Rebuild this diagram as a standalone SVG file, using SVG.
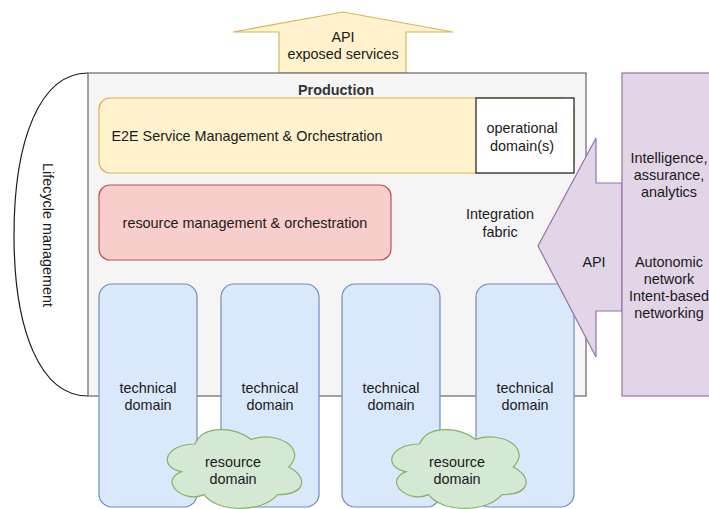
<svg xmlns="http://www.w3.org/2000/svg" width="709" height="509" viewBox="0 0 709 509">
<style>
text{font-family:"Liberation Sans",Arial,Helvetica,sans-serif;font-size:14.4px;fill:#1a1a1a;text-anchor:middle}
.b{font-weight:bold;fill:#333}
.yel{fill:#fff2cc;stroke:#d6b656;stroke-width:1.2}
.red{fill:#f8cecc;stroke:#b85450;stroke-width:1.2}
.blue{fill:#dae8fc;stroke:#6c8ebf;stroke-width:1.2}
.green{fill:#d5e8d4;stroke:#82b366;stroke-width:1.2}
.purple{fill:#e1d5e7;stroke:#9673a6;stroke-width:1.2}
</style>
<rect width="709" height="509" fill="#ffffff"/>
<g id="api-exposed">
<polygon class="yel" points="279,73 279,32 233,32 343,12 453,32 406,32 406,73"/>
<text x="343" y="42">API</text>
<text x="343" y="59">exposed services</text>
</g>
<g id="lifecycle">
<path d="M88,73 C40,73 14,140 14,235 C14,330 40,396 88,396" fill="#ffffff" stroke="#1a1a1a" stroke-width="1.2"/>
<text transform="translate(48,235) rotate(90)" y="5">Lifecycle management</text>
</g>
<g id="production">
<rect x="88" y="73" width="498" height="323" fill="#f5f5f5" stroke="#666666" stroke-width="1.2"/>
<text class="b" x="336" y="95">Production</text>
<text x="500" y="219">Integration</text>
<text x="500" y="237">fabric</text>
</g>
<g id="e2e">
<rect class="yel" x="99" y="98" width="475" height="75" rx="11"/>
<text x="247" y="141">E2E Service Management &amp; Orchestration</text>
</g>
<g id="operational">
<rect x="476" y="98" width="98" height="75" fill="#ffffff" stroke="#1a1a1a" stroke-width="1.2"/>
<text x="522" y="133">operational</text>
<text x="522" y="151">domain(s)</text>
</g>
<g id="resource-mgmt">
<rect class="red" x="99" y="185" width="292" height="75" rx="11"/>
<text x="245" y="228">resource management &amp; orchestration</text>
</g>
<g id="tech1">
<rect class="blue" x="99" y="284" width="98" height="223" rx="13"/>
<text x="148" y="393">technical</text>
<text x="148" y="410">domain</text>
</g>
<g id="tech2">
<rect class="blue" x="221" y="284" width="98" height="223" rx="13"/>
<text x="270" y="393">technical</text>
<text x="270" y="410">domain</text>
</g>
<g id="tech3">
<rect class="blue" x="342" y="284" width="98" height="223" rx="13"/>
<text x="391" y="393">technical</text>
<text x="391" y="410">domain</text>
</g>
<g id="tech4">
<rect class="blue" x="476" y="284" width="98" height="223" rx="13"/>
<text x="525" y="393">technical</text>
<text x="525" y="410">domain</text>
</g>
<g id="cloud1">
<path class="green" d="M195,444 C165,444 157.5,467 181.5,471.6 C157.5,481.7 184.5,503.8 204,494.6 C217.5,513 262.5,513 277.5,494.6 C307.5,494.6 307.5,476.2 288.75,467 C307.5,448.6 277.5,430.2 251.25,439.4 C232.5,425.6 202.5,425.6 195,444 Z"/>
<text x="233" y="467">resource</text>
<text x="233" y="484">domain</text>
</g>
<g id="cloud2">
<path class="green" d="M419.5,444 C389.5,444 382,467 406,471.6 C382,481.7 409,503.8 428.5,494.6 C442,513 487,513 502,494.6 C532,494.6 532,476.2 513.25,467 C532,448.6 502,430.2 475.75,439.4 C457,425.6 427,425.6 419.5,444 Z"/>
<text x="457" y="467">resource</text>
<text x="457" y="484">domain</text>
</g>
<g id="api-arrow">
<polygon class="purple" points="622,183 596,183 596,138 538,246 596,357 596,311 622,311"/>
<text x="594" y="267">API</text>
</g>
<g id="intelligence">
<rect class="purple" x="622" y="73" width="100" height="323"/>
<text x="669" y="163">Intelligence,</text>
<text x="669" y="180">assurance,</text>
<text x="669" y="197">analytics</text>
<text x="669" y="267">Autonomic</text>
<text x="669" y="284">network</text>
<text x="669" y="301">Intent-based</text>
<text x="669" y="318">networking</text>
</g>
<g id="connectors"></g>
</svg>
